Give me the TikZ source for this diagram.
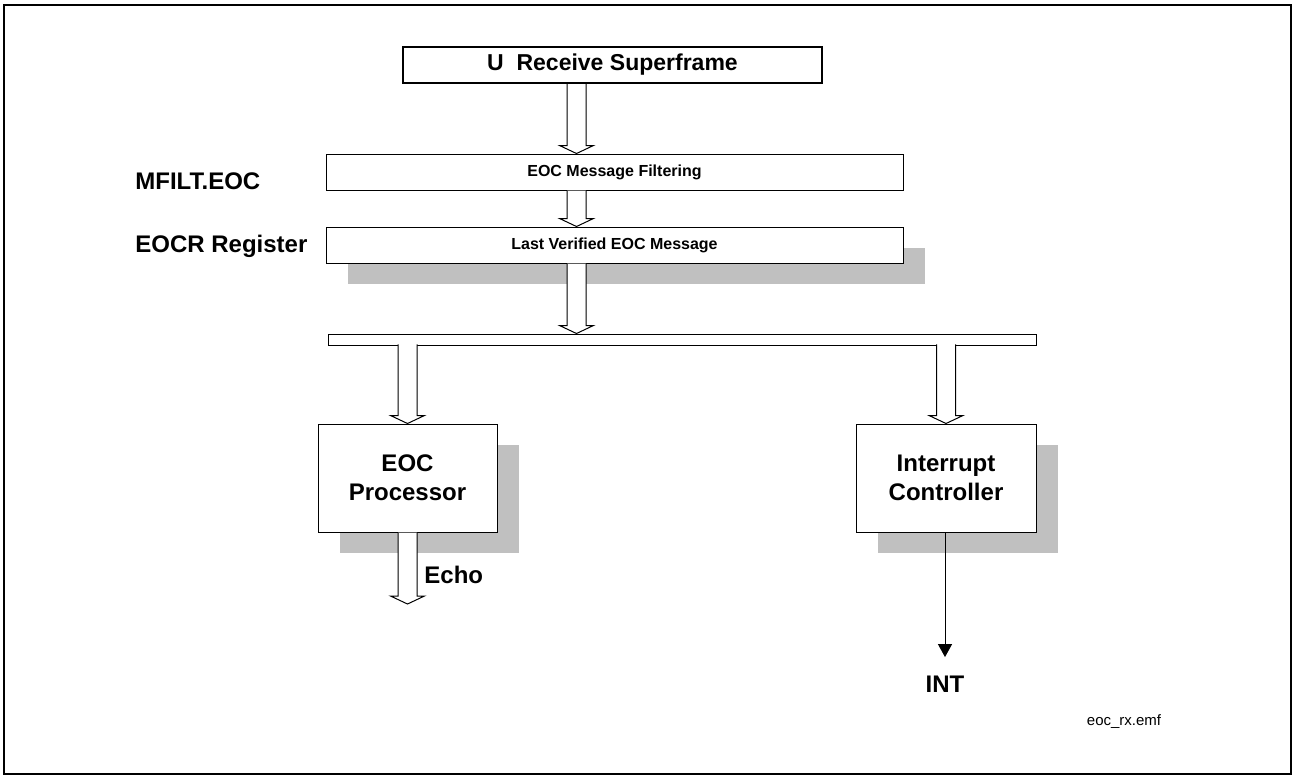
\documentclass[tikz,border=0pt]{standalone}
\usepackage{fontspec}
\setmainfont{Liberation Sans}
\usepackage{xcolor}
\definecolor{shade}{HTML}{C0C0C0}
\usepackage{tikz}
\usetikzlibrary{arrows.meta, positioning, calc, shadows}
\tikzset{%
    block/.style={%
        draw, fill=white, line width=0.5pt, inner sep=0, align=center,
        font=\bfseries\fontsize{12}{14.5}\selectfont
    },
    bar/.style={%
        block, minimum width=288.5pt, minimum height=18pt,
        font=\bfseries\fontsize{8}{10}\selectfont
    },
    shadowed/.style={%
        drop shadow={shadow xshift=11pt, shadow yshift=-10.5pt, fill=shade, opacity=1}
    },
    hollow/.style={%
        draw, fill=white, line width=0.5pt
    },
    sidelabel/.style={%
        anchor=base west, inner sep=0, font=\bfseries\fontsize{12}{14}\selectfont
    }
}
\newcommand{\hollowarrow}[3][0pt]{%
    \path[hollow] let \p1=(#2), \p2=(#3) in
        (\x1-4.75pt,\y1+#1) -- (\x1-4.75pt,\y2+4pt) -- (\x1-8.5pt,\y2+4pt) -- (\x1,\y2)
        -- (\x1+8.5pt,\y2+4pt) -- (\x1+4.75pt,\y2+4pt) -- (\x1+4.75pt,\y1+#1);
}

\begin{document}
\begin{tikzpicture}[
        x=0.5pt, y=-0.5pt,
        every node/.style={inner sep=0},
        signal/.style={-{Triangle[width=7pt, length=6.5pt]}, line width=0.5pt, shorten >=9pt},
    ]
        \useasboundingbox (0,0) rectangle (1297,778);
        \draw[line width=1.25pt] (4,5) rectangle (1291,774);

        \coordinate (axis) at (576.5,0);

        \node[block, line width=1pt, minimum width=209.5pt, minimum height=18pt,
              font=\bfseries\fontsize{11.5}{14}\selectfont] (urx) at (612.5,65) {U\ \ Receive Superframe};
        \node[bar] (filt) at (614.5,172) {EOC Message Filtering};
        \node[bar, shadowed] (lastv) at (614.5,245) {Last Verified EOC Message};
        \node[block, minimum width=354pt, minimum height=5.5pt] (bus) at (682,339.5) {};
        \node[block, shadowed, minimum width=89.5pt, minimum height=54pt] (eocp) at (407.5,478) {EOC\\Processor};
        \node[block, shadowed, minimum width=90pt, minimum height=54pt] (intc) at (946,478) {Interrupt\\Controller};

        \node[sidelabel] (mfilt) at (135,189) {MFILT.EOC};
        \node[sidelabel] (eocr) at (135,252) {EOCR Register};
        \node[sidelabel] (echo) at (424,583) {Echo};
        \node[sidelabel, anchor=base] (intlbl) at (945,692) {INT};
        \node[anchor=base, font=\fontsize{7.5}{9}\selectfont] (emf) at (1124,725) {eoc\_rx.emf};
        \coordinate (echoend) at (407.5,604);

        \hollowarrow{urx.south -| axis}{filt.north -| axis}
        \hollowarrow{filt.south -| axis}{lastv.north -| axis}
        \hollowarrow{lastv.south -| axis}{bus.north -| axis}
        \hollowarrow[0.6pt]{bus.south -| eocp}{eocp.north}
        \hollowarrow[0.6pt]{bus.south -| intc}{intc.north}
        \hollowarrow{eocp.south}{echoend}
        \draw[signal] (intc.south -| intlbl) -- (intlbl);
    \end{tikzpicture}
\end{document}
